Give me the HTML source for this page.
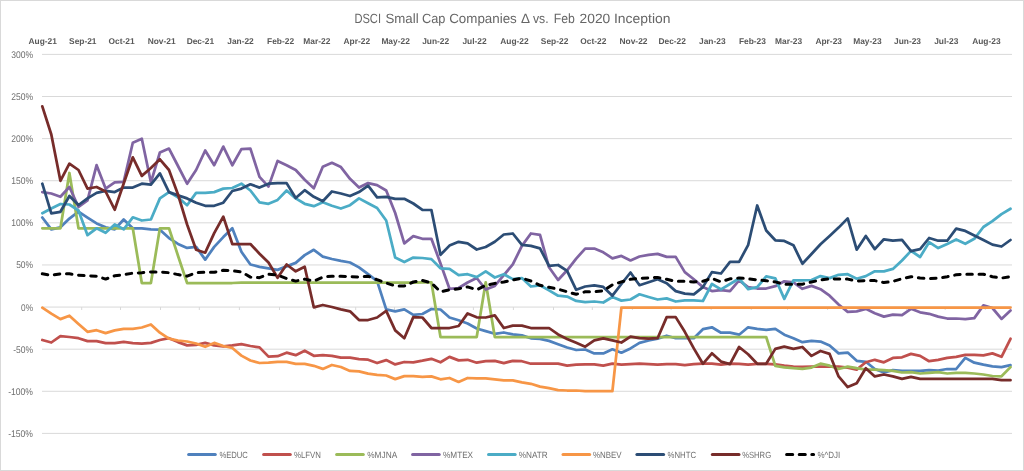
<!DOCTYPE html>
<html><head><meta charset="utf-8"><style>html,body{margin:0;padding:0;background:#fff;}svg{display:block;font-family:"Liberation Sans",sans-serif;will-change:transform;text-rendering:geometricPrecision;}</style></head>
<body><svg width="1024" height="471" viewBox="0 0 1024 471">
<rect x="0.5" y="0.5" width="1023" height="470" fill="#fff" stroke="#d9d9d9" stroke-width="1"/>
<line x1="42" y1="54.40" x2="1012" y2="54.40" stroke="#d9d9d9" stroke-width="1"/>
<text x="11.20" y="57.8" font-size="9.7" fill="#6f6f6f" textLength="21.80" lengthAdjust="spacingAndGlyphs">300%</text>
<line x1="42" y1="96.51" x2="1012" y2="96.51" stroke="#d9d9d9" stroke-width="1"/>
<text x="11.20" y="99.9" font-size="9.7" fill="#6f6f6f" textLength="21.80" lengthAdjust="spacingAndGlyphs">250%</text>
<line x1="42" y1="138.62" x2="1012" y2="138.62" stroke="#d9d9d9" stroke-width="1"/>
<text x="11.20" y="142.0" font-size="9.7" fill="#6f6f6f" textLength="21.80" lengthAdjust="spacingAndGlyphs">200%</text>
<line x1="42" y1="180.73" x2="1012" y2="180.73" stroke="#d9d9d9" stroke-width="1"/>
<text x="11.20" y="184.1" font-size="9.7" fill="#6f6f6f" textLength="21.80" lengthAdjust="spacingAndGlyphs">150%</text>
<line x1="42" y1="222.84" x2="1012" y2="222.84" stroke="#d9d9d9" stroke-width="1"/>
<text x="11.20" y="226.2" font-size="9.7" fill="#6f6f6f" textLength="21.80" lengthAdjust="spacingAndGlyphs">100%</text>
<line x1="42" y1="264.96" x2="1012" y2="264.96" stroke="#d9d9d9" stroke-width="1"/>
<text x="16.14" y="268.4" font-size="9.7" fill="#6f6f6f" textLength="16.86" lengthAdjust="spacingAndGlyphs">50%</text>
<line x1="42" y1="307.07" x2="1012" y2="307.07" stroke="#d9d9d9" stroke-width="1"/>
<text x="21.09" y="310.5" font-size="9.7" fill="#6f6f6f" textLength="11.91" lengthAdjust="spacingAndGlyphs">0%</text>
<line x1="42" y1="349.18" x2="1012" y2="349.18" stroke="#d9d9d9" stroke-width="1"/>
<text x="13.16" y="352.6" font-size="9.7" fill="#6f6f6f" textLength="19.84" lengthAdjust="spacingAndGlyphs">-50%</text>
<line x1="42" y1="391.29" x2="1012" y2="391.29" stroke="#d9d9d9" stroke-width="1"/>
<text x="8.22" y="394.7" font-size="9.7" fill="#6f6f6f" textLength="24.78" lengthAdjust="spacingAndGlyphs">-100%</text>
<line x1="42" y1="433.40" x2="1012" y2="433.40" stroke="#d9d9d9" stroke-width="1"/>
<text x="8.22" y="436.8" font-size="9.7" fill="#6f6f6f" textLength="24.78" lengthAdjust="spacingAndGlyphs">-150%</text>
<text x="354.4" y="23.3" font-size="13.4" fill="#666" textLength="26.6" lengthAdjust="spacingAndGlyphs">DSCI</text>
<text x="385.4" y="23.3" font-size="13.4" fill="#666" textLength="33.2" lengthAdjust="spacingAndGlyphs">Small</text>
<text x="422.0" y="23.3" font-size="13.4" fill="#666" textLength="23.4" lengthAdjust="spacingAndGlyphs">Cap</text>
<text x="449.2" y="23.3" font-size="13.4" fill="#666" textLength="67.6" lengthAdjust="spacingAndGlyphs">Companies</text>
<text x="520.9" y="23.3" font-size="13.4" fill="#666" textLength="9.0" lengthAdjust="spacingAndGlyphs">Δ</text>
<text x="533.0" y="23.3" font-size="13.4" fill="#666" textLength="15.6" lengthAdjust="spacingAndGlyphs">vs.</text>
<text x="553.6999999999999" y="23.3" font-size="13.4" fill="#666" textLength="21.1" lengthAdjust="spacingAndGlyphs">Feb</text>
<text x="579.6" y="23.3" font-size="13.4" fill="#666" textLength="30.7" lengthAdjust="spacingAndGlyphs">2020</text>
<text x="614.0" y="23.3" font-size="13.4" fill="#666" textLength="56.5" lengthAdjust="spacingAndGlyphs">Inception</text>
<line x1="81.7" y1="307" x2="81.7" y2="310" stroke="#d9d9d9" stroke-width="1"/>
<line x1="120.5" y1="307" x2="120.5" y2="310" stroke="#d9d9d9" stroke-width="1"/>
<line x1="160.5" y1="307" x2="160.5" y2="310" stroke="#d9d9d9" stroke-width="1"/>
<line x1="199.3" y1="307" x2="199.3" y2="310" stroke="#d9d9d9" stroke-width="1"/>
<line x1="239.4" y1="307" x2="239.4" y2="310" stroke="#d9d9d9" stroke-width="1"/>
<line x1="279.5" y1="307" x2="279.5" y2="310" stroke="#d9d9d9" stroke-width="1"/>
<line x1="315.7" y1="307" x2="315.7" y2="310" stroke="#d9d9d9" stroke-width="1"/>
<line x1="355.7" y1="307" x2="355.7" y2="310" stroke="#d9d9d9" stroke-width="1"/>
<line x1="394.5" y1="307" x2="394.5" y2="310" stroke="#d9d9d9" stroke-width="1"/>
<line x1="434.6" y1="307" x2="434.6" y2="310" stroke="#d9d9d9" stroke-width="1"/>
<line x1="473.4" y1="307" x2="473.4" y2="310" stroke="#d9d9d9" stroke-width="1"/>
<line x1="513.4" y1="307" x2="513.4" y2="310" stroke="#d9d9d9" stroke-width="1"/>
<line x1="553.5" y1="307" x2="553.5" y2="310" stroke="#d9d9d9" stroke-width="1"/>
<line x1="592.3" y1="307" x2="592.3" y2="310" stroke="#d9d9d9" stroke-width="1"/>
<line x1="632.4" y1="307" x2="632.4" y2="310" stroke="#d9d9d9" stroke-width="1"/>
<line x1="671.1" y1="307" x2="671.1" y2="310" stroke="#d9d9d9" stroke-width="1"/>
<line x1="711.2" y1="307" x2="711.2" y2="310" stroke="#d9d9d9" stroke-width="1"/>
<line x1="751.3" y1="307" x2="751.3" y2="310" stroke="#d9d9d9" stroke-width="1"/>
<line x1="787.5" y1="307" x2="787.5" y2="310" stroke="#d9d9d9" stroke-width="1"/>
<line x1="827.6" y1="307" x2="827.6" y2="310" stroke="#d9d9d9" stroke-width="1"/>
<line x1="866.3" y1="307" x2="866.3" y2="310" stroke="#d9d9d9" stroke-width="1"/>
<line x1="906.4" y1="307" x2="906.4" y2="310" stroke="#d9d9d9" stroke-width="1"/>
<line x1="945.2" y1="307" x2="945.2" y2="310" stroke="#d9d9d9" stroke-width="1"/>
<line x1="985.3" y1="307" x2="985.3" y2="310" stroke="#d9d9d9" stroke-width="1"/>
<text x="42.7" y="43.8" font-size="8.4" font-weight="bold" fill="#595959" text-anchor="middle">Aug-21</text>
<text x="82.8" y="43.8" font-size="8.4" font-weight="bold" fill="#595959" text-anchor="middle">Sep-21</text>
<text x="121.6" y="43.8" font-size="8.4" font-weight="bold" fill="#595959" text-anchor="middle">Oct-21</text>
<text x="161.6" y="43.8" font-size="8.4" font-weight="bold" fill="#595959" text-anchor="middle">Nov-21</text>
<text x="200.4" y="43.8" font-size="8.4" font-weight="bold" fill="#595959" text-anchor="middle">Dec-21</text>
<text x="240.5" y="43.8" font-size="8.4" font-weight="bold" fill="#595959" text-anchor="middle">Jan-22</text>
<text x="280.6" y="43.8" font-size="8.4" font-weight="bold" fill="#595959" text-anchor="middle">Feb-22</text>
<text x="316.8" y="43.8" font-size="8.4" font-weight="bold" fill="#595959" text-anchor="middle">Mar-22</text>
<text x="356.8" y="43.8" font-size="8.4" font-weight="bold" fill="#595959" text-anchor="middle">Apr-22</text>
<text x="395.6" y="43.8" font-size="8.4" font-weight="bold" fill="#595959" text-anchor="middle">May-22</text>
<text x="435.7" y="43.8" font-size="8.4" font-weight="bold" fill="#595959" text-anchor="middle">Jun-22</text>
<text x="474.5" y="43.8" font-size="8.4" font-weight="bold" fill="#595959" text-anchor="middle">Jul-22</text>
<text x="514.5" y="43.8" font-size="8.4" font-weight="bold" fill="#595959" text-anchor="middle">Aug-22</text>
<text x="554.6" y="43.8" font-size="8.4" font-weight="bold" fill="#595959" text-anchor="middle">Sep-22</text>
<text x="593.4" y="43.8" font-size="8.4" font-weight="bold" fill="#595959" text-anchor="middle">Oct-22</text>
<text x="633.5" y="43.8" font-size="8.4" font-weight="bold" fill="#595959" text-anchor="middle">Nov-22</text>
<text x="672.2" y="43.8" font-size="8.4" font-weight="bold" fill="#595959" text-anchor="middle">Dec-22</text>
<text x="712.3" y="43.8" font-size="8.4" font-weight="bold" fill="#595959" text-anchor="middle">Jan-23</text>
<text x="752.4" y="43.8" font-size="8.4" font-weight="bold" fill="#595959" text-anchor="middle">Feb-23</text>
<text x="788.6" y="43.8" font-size="8.4" font-weight="bold" fill="#595959" text-anchor="middle">Mar-23</text>
<text x="828.7" y="43.8" font-size="8.4" font-weight="bold" fill="#595959" text-anchor="middle">Apr-23</text>
<text x="867.4" y="43.8" font-size="8.4" font-weight="bold" fill="#595959" text-anchor="middle">May-23</text>
<text x="907.5" y="43.8" font-size="8.4" font-weight="bold" fill="#595959" text-anchor="middle">Jun-23</text>
<text x="946.3" y="43.8" font-size="8.4" font-weight="bold" fill="#595959" text-anchor="middle">Jul-23</text>
<text x="986.4" y="43.8" font-size="8.4" font-weight="bold" fill="#595959" text-anchor="middle">Aug-23</text>
<line x1="188.60000000000002" y1="454.5" x2="215.3" y2="454.5" stroke="#4f81bd" stroke-width="3" stroke-linecap="round"/>
<text x="219.4" y="457.7" font-size="9" fill="#6f6f6f" textLength="28.5" lengthAdjust="spacingAndGlyphs">%EDUC</text>
<line x1="263.6" y1="454.5" x2="290.3" y2="454.5" stroke="#c0504d" stroke-width="3" stroke-linecap="round"/>
<text x="294" y="457.7" font-size="9" fill="#6f6f6f" textLength="27" lengthAdjust="spacingAndGlyphs">%LFVN</text>
<line x1="336.6" y1="454.5" x2="363.3" y2="454.5" stroke="#9bbb59" stroke-width="3" stroke-linecap="round"/>
<text x="367.2" y="457.7" font-size="9" fill="#6f6f6f" textLength="30" lengthAdjust="spacingAndGlyphs">%MJNA</text>
<line x1="412.55" y1="454.5" x2="439.25" y2="454.5" stroke="#8064a2" stroke-width="3" stroke-linecap="round"/>
<text x="443" y="457.7" font-size="9" fill="#6f6f6f" textLength="30.1" lengthAdjust="spacingAndGlyphs">%MTEX</text>
<line x1="488.5" y1="454.5" x2="515.2" y2="454.5" stroke="#4bacc6" stroke-width="3" stroke-linecap="round"/>
<text x="518.75" y="457.7" font-size="9" fill="#6f6f6f" textLength="29" lengthAdjust="spacingAndGlyphs">%NATR</text>
<line x1="563.0" y1="454.5" x2="589.7" y2="454.5" stroke="#f79646" stroke-width="3" stroke-linecap="round"/>
<text x="593" y="457.7" font-size="9" fill="#6f6f6f" textLength="28.6" lengthAdjust="spacingAndGlyphs">%NBEV</text>
<line x1="636.9" y1="454.5" x2="663.6" y2="454.5" stroke="#2c4d75" stroke-width="3" stroke-linecap="round"/>
<text x="667.5" y="457.7" font-size="9" fill="#6f6f6f" textLength="28.5" lengthAdjust="spacingAndGlyphs">%NHTC</text>
<line x1="712.3" y1="454.5" x2="739" y2="454.5" stroke="#772c2a" stroke-width="3" stroke-linecap="round"/>
<text x="742.2" y="457.7" font-size="9" fill="#6f6f6f" textLength="28.9" lengthAdjust="spacingAndGlyphs">%SHRG</text>
<line x1="786.6" y1="454.6" x2="813.6" y2="454.6" stroke="#000" stroke-width="3" stroke-linecap="round" stroke-dasharray="6.1 6.5"/>
<text x="817.5" y="457.7" font-size="9" fill="#6f6f6f" textLength="22.8" lengthAdjust="spacingAndGlyphs">%^DJI</text>
<polyline points="42.3,217.5 51.3,229.3 60.4,227.3 69.4,218.6 78.5,211.7 87.5,217.6 96.6,223.4 105.6,227.3 114.7,229.3 123.7,219.5 132.8,228.3 141.8,228.3 150.9,229.3 159.9,229.7 169.0,238.1 178.0,243.9 187.1,247.9 196.1,246.9 205.2,259.6 214.2,246.9 223.3,237.1 232.3,228.3 241.4,251.8 250.4,264.5 259.5,266.8 268.5,268.4 277.6,269.9 286.6,266.4 295.7,262.9 304.7,255.1 313.8,249.8 322.8,256.6 331.9,259.0 340.9,260.9 350.0,262.5 359.0,267.4 368.1,274.2 377.1,281.1 386.2,309.3 395.2,311.3 404.3,309.3 413.3,314.8 422.4,314.0 431.4,309.0 440.5,309.5 449.5,317.5 458.6,320.3 467.6,323.5 476.7,328.5 485.7,331.1 494.8,333.8 503.8,332.5 512.8,334.4 521.9,335.4 530.9,338.3 540.0,338.9 549.0,340.9 558.1,344.2 567.1,347.5 576.2,350.0 585.2,349.5 594.3,353.4 603.3,353.4 612.4,349.3 621.4,352.7 630.5,348.4 639.5,342.9 648.6,340.5 657.6,338.6 666.7,335.7 675.7,338.2 684.8,338.2 693.8,338.2 702.9,329.2 711.9,327.3 721.0,332.7 730.0,332.7 739.1,334.7 748.1,327.3 757.2,328.8 766.2,329.8 775.3,328.8 784.3,334.7 793.4,338.2 802.4,342.2 811.5,340.9 820.5,341.6 829.6,345.5 838.6,353.4 847.7,352.6 856.7,360.8 865.8,361.8 874.8,369.0 883.9,372.5 892.9,370.2 902.0,370.9 911.0,370.9 920.1,370.9 929.1,370.2 938.2,370.5 947.2,369.0 956.2,369.0 965.3,357.9 974.3,362.7 983.4,364.7 992.4,366.3 1001.5,367.1 1010.5,365.2" fill="none" stroke="#4f81bd" stroke-width="2.75" stroke-linecap="round" stroke-linejoin="round"/>
<polyline points="42.3,340.0 51.3,342.5 60.4,336.1 69.4,337.0 78.5,338.2 87.5,341.1 96.6,341.1 105.6,343.1 114.7,343.1 123.7,341.9 132.8,343.1 141.8,343.7 150.9,342.9 159.9,340.0 169.0,338.2 178.0,342.1 187.1,345.4 196.1,344.8 205.2,342.9 214.2,345.4 223.3,346.4 232.3,345.4 241.4,344.1 250.4,346.0 259.5,347.4 268.5,356.6 277.6,356.2 286.6,352.7 295.7,355.2 304.7,350.7 313.8,355.8 322.8,355.2 331.9,355.8 340.9,357.7 350.0,357.7 359.0,359.1 368.1,359.7 377.1,363.0 386.2,360.1 395.2,364.4 404.3,362.0 413.3,362.4 422.4,360.7 431.4,358.8 440.5,362.3 449.5,356.9 458.6,360.4 467.6,359.8 476.7,362.7 485.7,361.2 494.8,360.8 503.8,363.1 512.8,360.8 521.9,361.2 530.9,363.7 540.0,363.7 549.0,363.7 558.1,363.7 567.1,365.7 576.2,364.7 585.2,364.3 594.3,364.3 603.3,365.7 612.4,363.7 621.4,364.6 630.5,364.1 639.5,363.6 648.6,364.1 657.6,364.6 666.7,364.1 675.7,364.1 684.8,365.2 693.8,364.1 702.9,363.6 711.9,363.6 721.0,364.6 730.0,363.6 739.1,363.8 748.1,364.6 757.2,363.8 766.2,363.9 775.3,364.3 784.3,365.5 793.4,366.5 802.4,366.8 811.5,366.6 820.5,366.6 829.6,366.6 838.6,366.6 847.7,367.6 856.7,369.6 865.8,362.3 874.8,359.8 883.9,362.3 892.9,357.9 902.0,357.3 911.0,353.9 920.1,355.9 929.1,361.2 938.2,359.8 947.2,357.9 956.2,356.9 965.3,354.9 974.3,354.9 983.4,355.3 992.4,353.4 1001.5,356.8 1010.5,338.8" fill="none" stroke="#c0504d" stroke-width="2.75" stroke-linecap="round" stroke-linejoin="round"/>
<polyline points="42.3,228.3 51.3,228.3 60.4,228.3 69.4,173.0 78.5,228.3 87.5,228.3 96.6,228.3 105.6,228.3 114.7,228.3 123.7,228.3 132.8,228.3 141.8,283.0 150.9,283.0 159.9,228.3 169.0,228.3 178.0,255.7 187.1,283.0 196.1,283.0 205.2,283.0 214.2,283.0 223.3,283.0 232.3,283.0 241.4,282.7 250.4,282.7 259.5,282.7 268.5,282.7 277.6,282.7 286.6,282.7 295.7,282.7 304.7,282.7 313.8,282.7 322.8,282.7 331.9,282.7 340.9,282.7 350.0,282.7 359.0,282.7 368.1,282.7 377.1,282.7 386.2,282.7 395.2,282.7 404.3,282.7 413.3,282.7 422.4,282.3 431.4,282.3 440.5,337.0 449.5,337.0 458.6,337.0 467.6,337.0 476.7,337.0 485.7,282.3 494.8,337.0 503.8,337.0 512.8,337.0 521.9,337.0 530.9,337.0 540.0,337.0 549.0,337.0 558.1,337.0 567.1,337.0 576.2,337.0 585.2,337.0 594.3,337.0 603.3,337.0 612.4,337.0 621.4,337.0 630.5,337.0 639.5,337.0 648.6,337.0 657.6,337.0 666.7,337.0 675.7,337.0 684.8,337.0 693.8,337.0 702.9,337.0 711.9,337.0 721.0,337.0 730.0,337.0 739.1,337.0 748.1,337.0 757.2,337.0 766.2,337.0 775.3,365.9 784.3,367.3 793.4,368.2 802.4,368.8 811.5,367.6 820.5,363.7 829.6,365.7 838.6,369.0 847.7,366.6 856.7,368.2 865.8,369.6 874.8,369.6 883.9,370.2 892.9,370.9 902.0,372.5 911.0,372.1 920.1,373.5 929.1,372.9 938.2,372.1 947.2,373.5 956.2,372.9 965.3,372.9 974.3,373.5 983.4,374.5 992.4,376.0 1001.5,376.3 1010.5,367.1" fill="none" stroke="#9bbb59" stroke-width="2.75" stroke-linecap="round" stroke-linejoin="round"/>
<polyline points="42.3,192.1 51.3,193.5 60.4,196.8 69.4,187.0 78.5,207.0 87.5,200.3 96.6,165.2 105.6,188.6 114.7,182.3 123.7,181.8 132.8,142.7 141.8,138.8 150.9,182.3 159.9,152.5 169.0,148.6 178.0,166.0 187.1,183.7 196.1,170.0 205.2,150.5 214.2,165.2 223.3,146.6 232.3,165.2 241.4,149.1 250.4,148.6 259.5,176.9 268.5,186.6 277.6,160.9 286.6,165.2 295.7,170.0 304.7,179.8 313.8,188.2 322.8,166.7 331.9,162.8 340.9,167.1 350.0,178.8 359.0,187.6 368.1,183.1 377.1,185.1 386.2,190.5 395.2,213.0 404.3,243.4 413.3,236.1 422.4,238.8 431.4,238.8 440.5,263.4 449.5,288.8 458.6,288.0 467.6,282.5 476.7,278.0 485.7,289.5 494.8,285.9 503.8,275.2 512.8,264.4 521.9,245.9 530.9,233.5 540.0,234.8 549.0,267.3 558.1,280.0 567.1,270.3 576.2,258.6 585.2,248.6 594.3,248.6 603.3,252.3 612.4,258.3 621.4,255.9 630.5,260.4 639.5,256.5 648.6,254.9 657.6,253.9 666.7,256.9 675.7,256.9 684.8,272.1 693.8,279.3 702.9,287.1 711.9,291.1 721.0,290.1 730.0,291.1 739.1,280.3 748.1,287.1 757.2,288.5 766.2,288.5 775.3,286.2 784.3,281.3 793.4,282.3 802.4,288.8 811.5,285.9 820.5,289.2 829.6,295.7 838.6,304.5 847.7,311.9 856.7,311.3 865.8,308.8 874.8,313.2 883.9,316.6 892.9,314.6 902.0,315.2 911.0,308.8 920.1,312.3 929.1,313.8 938.2,316.6 947.2,318.5 956.2,318.5 965.3,319.1 974.3,318.1 983.4,305.4 992.4,308.0 1001.5,318.9 1010.5,310.5" fill="none" stroke="#8064a2" stroke-width="2.75" stroke-linecap="round" stroke-linejoin="round"/>
<polyline points="42.3,213.2 51.3,208.5 60.4,204.0 69.4,204.5 78.5,210.5 87.5,235.2 96.6,228.3 105.6,232.8 114.7,224.4 123.7,229.3 132.8,217.3 141.8,220.5 150.9,219.5 159.9,198.4 169.0,192.1 178.0,197.4 187.1,205.2 196.1,192.9 205.2,192.9 214.2,192.1 223.3,188.6 232.3,188.0 241.4,183.7 250.4,190.5 259.5,202.3 268.5,203.8 277.6,199.9 286.6,190.5 295.7,198.4 304.7,203.8 313.8,206.2 322.8,202.3 331.9,205.8 340.9,208.5 350.0,205.2 359.0,198.4 368.1,203.2 377.1,208.0 386.2,220.5 395.2,257.6 404.3,262.1 413.3,257.6 422.4,258.0 431.4,259.1 440.5,268.3 449.5,268.9 458.6,275.2 467.6,274.2 476.7,277.1 485.7,271.3 494.8,277.5 503.8,274.2 512.8,279.1 521.9,278.1 530.9,286.5 540.0,285.3 549.0,290.4 558.1,295.7 567.1,296.6 576.2,300.9 585.2,302.1 594.3,301.5 603.3,302.5 612.4,297.0 621.4,300.6 630.5,299.5 639.5,294.3 648.6,297.0 657.6,299.5 666.7,298.4 675.7,301.5 684.8,300.3 693.8,300.3 702.9,301.0 711.9,284.0 721.0,289.4 730.0,284.0 739.1,278.5 748.1,289.2 757.2,287.2 766.2,276.4 775.3,278.4 784.3,298.9 793.4,280.3 802.4,280.3 811.5,280.0 820.5,276.1 829.6,278.1 838.6,274.8 847.7,274.2 856.7,278.7 865.8,276.1 874.8,271.3 883.9,271.3 892.9,268.9 902.0,260.5 911.0,250.9 920.1,257.0 929.1,242.2 938.2,248.1 947.2,244.0 956.2,239.5 965.3,243.8 974.3,238.8 983.4,227.0 992.4,221.2 1001.5,214.1 1010.5,208.8" fill="none" stroke="#4bacc6" stroke-width="2.75" stroke-linecap="round" stroke-linejoin="round"/>
<polyline points="42.3,307.7 51.3,313.6 60.4,319.1 69.4,315.7 78.5,323.9 87.5,331.8 96.6,330.2 105.6,333.1 114.7,330.4 123.7,328.8 132.8,328.8 141.8,327.5 150.9,324.5 159.9,332.7 169.0,338.6 178.0,340.5 187.1,341.5 196.1,343.5 205.2,346.8 214.2,342.9 223.3,346.0 232.3,348.0 241.4,355.6 250.4,360.5 259.5,363.0 268.5,362.7 277.6,361.9 286.6,361.9 295.7,363.8 304.7,363.8 313.8,365.8 322.8,368.9 331.9,365.0 340.9,367.0 350.0,370.9 359.0,371.3 368.1,373.6 377.1,374.8 386.2,375.5 395.2,379.1 404.3,376.1 413.3,376.1 422.4,376.8 431.4,376.4 440.5,379.3 449.5,378.0 458.6,381.9 467.6,378.0 476.7,378.4 485.7,378.4 494.8,379.3 503.8,380.3 512.8,380.3 521.9,382.3 530.9,383.8 540.0,386.6 549.0,388.1 558.1,390.1 567.1,390.5 576.2,390.5 585.2,391.1 594.3,391.1 603.3,391.1 612.4,391.1 621.4,307.6 630.5,307.6 639.5,307.6 648.6,307.6 657.6,307.6 666.7,307.6 675.7,307.6 684.8,307.6 693.8,307.6 702.9,307.6 711.9,307.6 721.0,307.6 730.0,307.6 739.1,307.6 748.1,307.6 757.2,307.6 766.2,307.6 775.3,307.6 784.3,307.6 793.4,307.6 802.4,307.6 811.5,307.6 820.5,307.6 829.6,307.6 838.6,307.6 847.7,307.6 856.7,307.6 865.8,307.6 874.8,307.6 883.9,307.6 892.9,307.6 902.0,307.6 911.0,307.6 920.1,307.6 929.1,307.6 938.2,307.6 947.2,307.6 956.2,307.6 965.3,307.6 974.3,307.6 983.4,307.6 992.4,307.6 1001.5,307.6 1010.5,307.6" fill="none" stroke="#f79646" stroke-width="2.75" stroke-linecap="round" stroke-linejoin="round"/>
<polyline points="42.3,183.7 51.3,213.3 60.4,211.8 69.4,196.0 78.5,205.0 87.5,198.4 96.6,192.9 105.6,190.9 114.7,192.1 123.7,187.6 132.8,187.6 141.8,183.7 150.9,184.7 159.9,173.4 169.0,192.1 178.0,195.4 187.1,198.4 196.1,202.7 205.2,205.8 214.2,205.8 223.3,202.7 232.3,191.0 241.4,188.6 250.4,184.3 259.5,187.6 268.5,183.7 277.6,183.1 286.6,183.1 295.7,198.0 304.7,190.2 313.8,196.8 322.8,201.3 331.9,191.5 340.9,193.5 350.0,196.0 359.0,192.1 368.1,185.7 377.1,197.4 386.2,196.8 395.2,198.8 404.3,198.8 413.3,203.5 422.4,209.8 431.4,210.0 440.5,254.8 449.5,245.6 458.6,241.8 467.6,243.4 476.7,249.5 485.7,247.0 494.8,241.7 503.8,234.5 512.8,233.5 521.9,244.8 530.9,245.8 540.0,248.3 549.0,265.8 558.1,265.0 567.1,270.9 576.2,289.8 585.2,286.5 594.3,285.3 603.3,286.9 612.4,295.7 621.4,284.0 630.5,272.5 639.5,285.2 648.6,282.3 657.6,279.3 666.7,283.2 675.7,291.1 684.8,293.6 693.8,294.4 702.9,287.1 711.9,272.1 721.0,273.5 730.0,261.8 739.1,261.8 748.1,245.2 757.2,205.5 766.2,230.5 775.3,240.3 784.3,240.9 793.4,245.2 802.4,263.7 811.5,254.0 820.5,244.2 829.6,236.0 838.6,227.6 847.7,218.4 856.7,249.7 865.8,236.0 874.8,249.1 883.9,239.3 892.9,240.7 902.0,239.9 911.0,251.1 920.1,249.1 929.1,238.0 938.2,240.7 947.2,240.7 956.2,228.6 965.3,230.9 974.3,235.4 983.4,239.9 992.4,244.6 1001.5,246.5 1010.5,240.0" fill="none" stroke="#2c4d75" stroke-width="2.75" stroke-linecap="round" stroke-linejoin="round"/>
<polyline points="42.3,106.3 51.3,134.5 60.4,180.8 69.4,163.6 78.5,170.0 87.5,188.6 96.6,187.0 105.6,191.5 114.7,209.7 123.7,183.5 132.8,157.3 141.8,175.9 150.9,168.0 159.9,159.3 169.0,170.0 178.0,194.5 187.1,224.5 196.1,249.8 205.2,252.7 214.2,233.2 223.3,216.6 232.3,244.0 241.4,244.0 250.4,244.0 259.5,253.7 268.5,262.5 277.6,277.7 286.6,264.5 295.7,271.3 304.7,266.8 313.8,307.3 322.8,305.0 331.9,307.0 340.9,309.3 350.0,311.3 359.0,320.0 368.1,320.0 377.1,317.5 386.2,310.9 395.2,330.4 404.3,338.2 413.3,317.1 422.4,317.5 431.4,328.0 440.5,328.0 449.5,328.0 458.6,326.0 467.6,313.4 476.7,317.3 485.7,317.5 494.8,315.4 503.8,328.0 512.8,325.6 521.9,325.7 530.9,328.0 540.0,328.0 549.0,328.0 558.1,334.4 567.1,338.9 576.2,342.8 585.2,346.7 594.3,340.3 603.3,338.3 612.4,340.3 621.4,342.5 630.5,336.6 639.5,338.2 648.6,338.6 657.6,338.2 666.7,317.1 675.7,317.1 684.8,331.8 693.8,348.4 702.9,363.8 711.9,353.3 721.0,361.6 730.0,364.1 739.1,347.0 748.1,354.3 757.2,363.8 766.2,363.8 775.3,348.9 784.3,346.7 793.4,348.9 802.4,347.0 811.5,355.9 820.5,351.0 829.6,353.9 838.6,376.4 847.7,387.1 856.7,383.2 865.8,368.2 874.8,376.4 883.9,374.5 892.9,376.4 902.0,378.8 911.0,376.8 920.1,378.8 929.1,378.8 938.2,378.8 947.2,378.8 956.2,378.8 965.3,378.8 974.3,378.8 983.4,378.8 992.4,378.8 1001.5,380.2 1010.5,380.2" fill="none" stroke="#772c2a" stroke-width="2.75" stroke-linecap="round" stroke-linejoin="round"/>
<polyline points="42.3,273.8 51.3,275.2 60.4,273.8 69.4,273.8 78.5,275.2 87.5,275.8 96.6,276.2 105.6,279.1 114.7,275.8 123.7,274.6 132.8,273.2 141.8,272.7 150.9,271.9 159.9,271.9 169.0,272.7 178.0,274.6 187.1,276.2 196.1,272.7 205.2,272.3 214.2,272.3 223.3,270.3 232.3,270.7 241.4,271.9 250.4,277.1 259.5,277.7 268.5,274.2 277.6,275.2 286.6,278.5 295.7,281.1 304.7,279.1 313.8,281.1 322.8,277.1 331.9,276.2 340.9,276.2 350.0,276.6 359.0,277.1 368.1,276.2 377.1,279.7 386.2,283.0 395.2,285.9 404.3,285.9 413.3,282.0 422.4,280.5 431.4,283.0 440.5,291.8 449.5,289.8 458.6,288.8 467.6,286.9 476.7,289.8 485.7,285.3 494.8,283.4 503.8,282.0 512.8,280.0 521.9,278.1 530.9,281.0 540.0,285.3 549.0,287.3 558.1,289.2 567.1,291.8 576.2,294.3 585.2,291.8 594.3,291.8 603.3,290.8 612.4,284.9 621.4,281.9 630.5,279.3 639.5,278.4 648.6,278.0 657.6,277.4 666.7,279.3 675.7,281.3 684.8,281.3 693.8,281.9 702.9,281.3 711.9,278.4 721.0,281.9 730.0,278.8 739.1,278.0 748.1,278.8 757.2,279.9 766.2,280.7 775.3,281.9 784.3,284.2 793.4,284.2 802.4,284.2 811.5,282.0 820.5,280.0 829.6,278.7 838.6,279.1 847.7,279.1 856.7,281.0 865.8,280.6 874.8,280.6 883.9,282.6 892.9,281.4 902.0,278.7 911.0,276.7 920.1,278.1 929.1,278.7 938.2,278.1 947.2,276.7 956.2,274.8 965.3,274.2 974.3,274.2 983.4,274.2 992.4,276.7 1001.5,278.1 1010.5,276.6" fill="none" stroke="#000" stroke-width="3" stroke-linecap="round" stroke-linejoin="round" stroke-dasharray="5.5 6.7"/>
</svg></body></html>
